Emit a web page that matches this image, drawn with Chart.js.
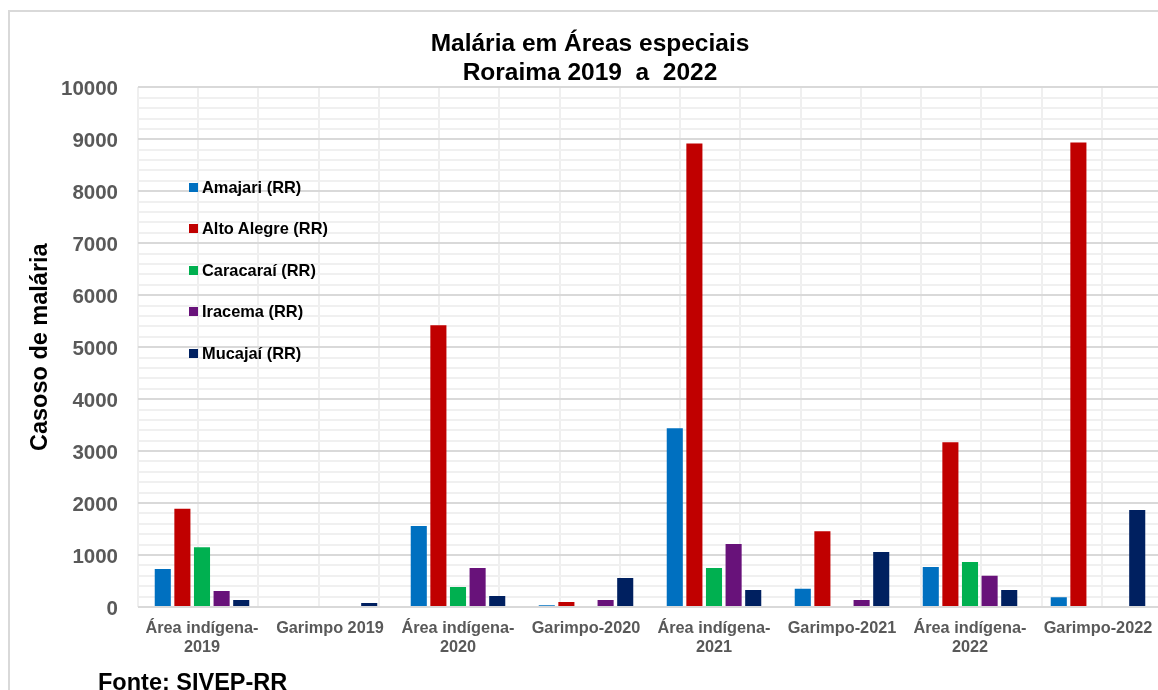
<!DOCTYPE html>
<html>
<head>
<meta charset="utf-8">
<script src="https://cdn.jsdelivr.net/npm/chart.js@4"></script>
<style>
  html, body { margin: 0; padding: 0; background: #fff; overflow: hidden; }
  body { width: 1158px; height: 690px; position: relative; font-family: "Liberation Sans", Arial, sans-serif; }
  #frame { position: absolute; left: 8px; top: 10px; width: 1200px; height: 720px; border: 2px solid #d9d9d9; box-sizing: border-box; }
  #wrap { position: absolute; left: 0; top: 0; width: 1180px; height: 690px; }
  #legend { position: absolute; left: 189px; top: 177px; }
  .item { display: flex; align-items: center; height: 20px; margin-bottom: 21.5px; font-weight: bold; font-size: 16.4px; color: #000; }
  .box { width: 9px; height: 9px; margin-right: 4px; }
  #source { position: absolute; left: 98px; top: 669px; font-weight: bold; font-size: 23.5px; color: #000; }
</style>
</head>
<body>
<div id="frame"></div>
<div id="wrap"><canvas id="chart"></canvas></div>
<div id="legend"></div>
<div id="source">Fonte: SIVEP-RR</div>
<script>
  const categories = [
    ['Área indígena-', '2019'], 'Garimpo 2019',
    ['Área indígena-', '2020'], 'Garimpo-2020',
    ['Área indígena-', '2021'], 'Garimpo-2021',
    ['Área indígena-', '2022'], 'Garimpo-2022',
  ];
  const seriesNames = ['Amajari (RR)', 'Alto Alegre (RR)', 'Caracaraí (RR)', 'Iracema (RR)', 'Mucajaí (RR)'];
  const amajari = [730, 0, 1560, 35, 3440, 350, 770, 190];
  const altoAlegre = [1890, 0, 5420, 95, 8920, 1460, 3170, 8940];
  const caracarai = [1150, 0, 385, 0, 750, 0, 865, 20];
  const iracema = [310, 0, 750, 135, 1210, 135, 600, 0];
  const mucajai = [135, 75, 210, 560, 325, 1060, 325, 1865];
  const colors = ['#0070c0', '#c00000', '#00b050', '#68127a', '#002060'];

  const seriesValues = [amajari, altoAlegre, caracarai, iracema, mucajai];
  const font = 'Liberation Sans, Arial, sans-serif';

  // legend drawn as html, placed inside the plot
  const legend = document.getElementById('legend');
  seriesNames.forEach((name, i) => {
    const row = document.createElement('div');
    row.className = 'item';
    row.innerHTML = `<span class="box" style="background:${colors[i]}"></span>${name}`;
    legend.appendChild(row);
  });

  new Chart(document.getElementById('chart'), {
    type: 'bar',
    data: {
      labels: categories,
      datasets: seriesNames.map((name, i) => ({
        label: name,
        data: seriesValues[i],
        backgroundColor: colors[i],
        categoryPercentage: 0.766,
        barPercentage: 0.82,
      })),
    },
    options: {
      responsive: true,
      maintainAspectRatio: false,
      animation: false,
      layout: { padding: { left: 18, right: 18, top: 0, bottom: 0 } },
      plugins: {
        legend: { display: false },
        tooltip: { enabled: false },
        title: {
          display: true,
          text: ['Malária em Áreas especiais', 'Roraima 2019  a  2022'],
          color: '#000',
          font: { family: font, size: 24.5, weight: 'bold', lineHeight: 1.17 },
          padding: { top: 30, bottom: 0 },
        },
      },
      scales: {
        x: {
          grid: { display: false },
          border: { display: false },
          ticks: {
            color: '#595959',
            font: { family: font, size: 16.3, weight: 'bold', lineHeight: 1.17 },
            padding: 4,
            maxRotation: 0,
            autoSkip: false,
          },
          afterFit(scale) { scale.height = 83; },
        },
        xg: {
          type: 'linear',
          position: 'top',
          min: 0,
          max: 16,
          ticks: { display: false, stepSize: 1 },
          border: { display: false },
          grid: { color: '#efefef', lineWidth: 2, drawTicks: false },
          afterFit(scale) { scale.height = 0; },
        },
        y: {
          min: 0,
          max: 10000,
          border: { display: false },
          ticks: {
            stepSize: 200,
            autoSkip: false,
            color: '#595959',
            padding: 20,
            labelOffset: 2,
            font: { family: font, size: 20.5, weight: 'bold' },
            callback: (v) => (v % 1000 === 0 ? String(v) : ''),
          },
          grid: {
            drawTicks: false,
            lineWidth: 2,
            color: (ctx) => (ctx.tick && ctx.tick.value % 1000 === 0 ? '#d9d9d9' : '#f0f0f0'),
          },
          title: {
            display: true,
            text: 'Casoso de malária',
            color: '#000',
            font: { family: font, size: 23.5, weight: 'bold' },
            padding: { top: 8, bottom: 0 },
          },
          afterFit(scale) { scale.width = 120; },
        },
      },
    },
  });
</script>
</body>
</html>
